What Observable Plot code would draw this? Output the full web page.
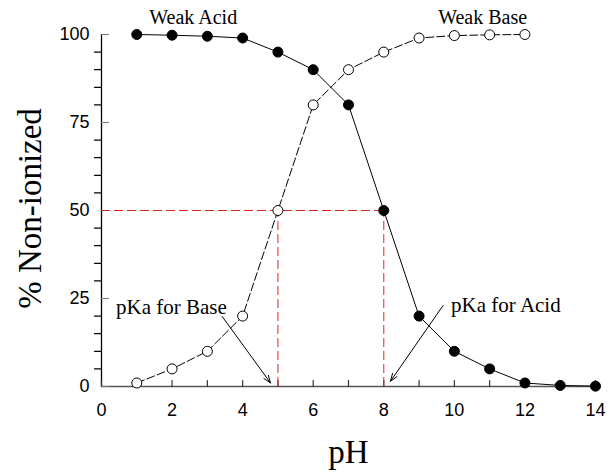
<!DOCTYPE html>
<html>
<head>
<meta charset="utf-8">
<script src="https://cdn.jsdelivr.net/npm/d3@7"></script>
<script src="https://cdn.jsdelivr.net/npm/@observablehq/plot@0.6"></script>
<style>
  html, body { margin: 0; padding: 0; background: #fff; }
  #chart svg { display: block; }
</style>
</head>
<body>
<div id="chart"></div>
<script>
const acidPH = [1, 2, 3, 4, 5, 6, 7, 8, 9, 10, 11, 12, 13, 14];
const acidValues = [100, 99.8, 99.5, 99, 95, 90, 80, 50, 20, 10, 5, 1, 0.3, 0.1];
const basePH = [1, 2, 3, 4, 5, 6, 7, 8, 9, 10, 11, 12];
const baseValues = [1, 5, 10, 20, 50, 80, 90, 95, 99, 99.7, 99.9, 100];
const xTickLabels = [0, 2, 4, 6, 8, 10, 12, 14];
const yTickLabels = [0, 25, 50, 75, 100];
const pKaBase = 5;
const pKaAcid = 8;
const xDomain = [0, 14];
const yDomain = [0, 100];

const acid = acidPH.map((x, i) => ({x, y: acidValues[i]}));
const base = basePH.map((x, i) => ({x, y: baseValues[i]}));
const xMinor = d3.range(0, 15, 1);
const yMinor = d3.range(0, 101, 5).filter(v => v % 25 !== 0);
const xAxisLine = xDomain.map(x => ({x, y: 0}));
const yAxisLine = yDomain.map(y => ({x: 0, y}));

const serif = "'Liberation Serif', 'Times New Roman', serif";
const sans = "'Liberation Sans', Arial, sans-serif";
const red = "#e02424";

// simple straight-line shapes for vector-drawn ticks
const tickShape = {draw(ctx, l) { ctx.moveTo(0, 0); ctx.lineTo(0, -l); }};
const crossShape = {draw(ctx, l) { ctx.moveTo(0, l / 2); ctx.lineTo(0, -l / 2); }};

const plot = Plot.plot({
  width: 608,
  height: 472,
  marginLeft: 101,
  marginRight: 13,
  marginTop: 34,
  marginBottom: 86,
  x: {domain: xDomain},
  y: {domain: yDomain},
  marks: [
    // axis lines
    Plot.line(xAxisLine, {x: "x", y: "y", stroke: "#555", strokeWidth: 1.3}),
    Plot.line(yAxisLine, {x: "x", y: "y", stroke: "#000", strokeWidth: 1.3}),
    // ticks (inward on x, crossing on y minor, inward gray on y major)
    Plot.vector(xMinor, {x: d => d, y: 0, length: 6, rotate: 0, anchor: "start", shape: tickShape, stroke: "#333", strokeWidth: 1.2}),
    Plot.vector(yMinor, {x: 0, y: d => d, length: 7, rotate: 90, anchor: "middle", shape: crossShape, stroke: "#000", strokeWidth: 1.2}),
    Plot.vector(yTickLabels, {x: 0, y: d => d, length: 7, rotate: 90, anchor: "start", shape: tickShape, stroke: "#777", strokeWidth: 1.2}),
    // axis tick labels
    Plot.axisX({ticks: xTickLabels, tickSize: 0, tickPadding: 17, fontSize: 18, fontFamily: sans, fill: "#000", label: null}),
    Plot.axisY({ticks: yTickLabels, tickSize: 0, tickPadding: 12, fontSize: 18, fontFamily: sans, fill: "#000", label: null}),
    // red dashed pKa guides
    Plot.ruleY([50], {x1: 0, x2: pKaAcid, stroke: red, strokeDasharray: "9,4", strokeWidth: 1}),
    Plot.ruleX([pKaBase, pKaAcid], {y1: 0, y2: 50, stroke: red, strokeDasharray: "9,4", strokeWidth: 1}),
    // series
    Plot.line(base, {x: "x", y: "y", stroke: "#000", strokeWidth: 1, strokeDasharray: "8,3"}),
    Plot.line(acid, {x: "x", y: "y", stroke: "#000", strokeWidth: 1}),
    Plot.dot(base, {x: "x", y: "y", r: 5, fill: "#fff", stroke: "#000", strokeWidth: 1}),
    Plot.dot(acid, {x: "x", y: "y", r: 5, fill: "#000", stroke: "#000", strokeWidth: 1}),
    // series labels
    Plot.text(["Weak Acid"], {x: 2.6, y: 104.8, text: d => d, fontFamily: serif, fontSize: 20, fill: "#000"}),
    Plot.text(["Weak Base"], {x: 10.8, y: 104.8, text: d => d, fontFamily: serif, fontSize: 20, fill: "#000"}),
    // pKa annotations
    Plot.text(["pKa for Base"], {x: 1.98, y: 22.5, text: d => d, fontFamily: serif, fontSize: 21, fill: "#000"}),
    Plot.text(["pKa for Acid"], {x: 11.46, y: 23.2, text: d => d, fontFamily: serif, fontSize: 21, fill: "#000"}),
    Plot.arrow([{x1: 3.42, y1: 19.9, x2: 4.79, y2: 1.0}], {x1: "x1", y1: "y1", x2: "x2", y2: "y2", stroke: "#000", strokeWidth: 1, headLength: 12, headAngle: 40}),
    Plot.arrow([{x1: 9.68, y1: 23, x2: 8.19, y2: 1.5}], {x1: "x1", y1: "y1", x2: "x2", y2: "y2", stroke: "#000", strokeWidth: 1, headLength: 12, headAngle: 40}),
    // axis titles
    Plot.text(["pH"], {frameAnchor: "bottom", textAnchor: "middle", lineAnchor: "middle", dy: 66, text: d => d, fontFamily: serif, fontSize: 33, fill: "#000"}),
    Plot.text(["% Non-ionized"], {frameAnchor: "left", textAnchor: "middle", lineAnchor: "middle", dx: -71, dy: -2, rotate: -90, text: d => d, fontFamily: serif, fontSize: 33, fill: "#000"})
  ]
});
document.getElementById("chart").appendChild(plot);
</script>
</body>
</html>
